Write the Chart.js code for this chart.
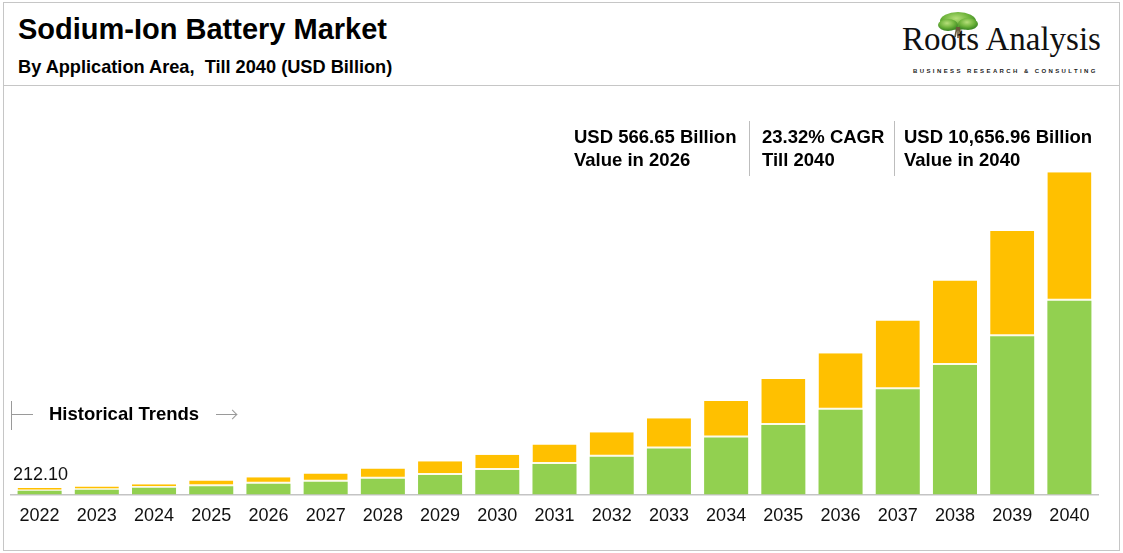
<!DOCTYPE html>
<html lang="en">
<head>
    <meta charset="UTF-8">
    <title>Sodium-Ion Battery Market</title>

    <!-- Chart.js -->
    <script src="https://cdn.jsdelivr.net/npm/chart.js"></script>

    <style>
        html, body {
            margin: 0;
            padding: 0;
            width: 1123px;
            height: 553px;
            overflow: hidden;
            background: #fff;
            font-family: 'Liberation Sans', Arial, sans-serif;
            color: #000;
        }

        #frame {
            position: absolute;
            left: 3px;
            top: 2px;
            width: 1115px;
            height: 547px;
            border: 1.5px solid #c6c6c6;
        }

        #header-line {
            position: absolute;
            left: 3px;
            top: 85px;
            width: 1117px;
            height: 0;
            border-top: 1.5px solid #c6c6c6;
        }

        .abs { position: absolute; white-space: pre; }

        #title { left: 18px; top: 15px; font-size: 29px; line-height: 29px; font-weight: bold; }
        #subtitle { left: 18px; top: 58px; font-size: 18.2px; line-height: 18px; font-weight: bold; }

        #logo-text { left: 902px; top: 22.5px; font-family: 'Liberation Serif', 'DejaVu Serif', serif; font-size: 33px; line-height: 33px; color: #111; }
        #logo-sub { left: 913px; top: 68px; font-size: 6px; line-height: 6px; font-weight: bold; letter-spacing: 2.4px; color: #222; }
        #logo-tree { left: 928px; top: 7px; }

        .note { font-size: 18.5px; line-height: 22.5px; font-weight: bold; top: 126.4px; }
        .sep { position: absolute; top: 121px; height: 55px; width: 0; border-left: 1.2px solid #bdbdbd; }

        #chart-box {
            position: absolute;
            left: 3px;
            top: 87px;
            width: 1115px;
            height: 462px;
        }

        #hist-v { position: absolute; left: 11px; top: 401px; height: 29px; width: 0; border-left: 1px solid #9a9a9a; }
        #hist-h { position: absolute; left: 11px; top: 414px; width: 22px; height: 0; border-top: 1px solid #9a9a9a; }
        #hist-text { left: 49px; top: 405px; font-size: 18.5px; line-height: 18.5px; font-weight: bold; }
        #hist-arrow { position: absolute; left: 216px; top: 414px; width: 20px; height: 0; border-top: 1px solid #9a9a9a; }
        #hist-arrow:after {
            content: '';
            position: absolute;
            right: 0;
            top: -4px;
            width: 6px;
            height: 6px;
            border-top: 1px solid #9a9a9a;
            border-right: 1px solid #9a9a9a;
            transform: rotate(45deg);
        }
    </style>
</head>
<body>
<div id="frame"></div>
<div id="header-line"></div>

<div id="title" class="abs">Sodium-Ion Battery Market</div>
<div id="subtitle" class="abs">By Application Area,  Till 2040 (USD Billion)</div>

<!-- logo -->
<svg id="logo-tree" class="abs" width="60" height="40" viewBox="0 0 60 40">
    <defs>
        <radialGradient id="leaf" cx="45%" cy="35%" r="60%">
            <stop offset="0%" stop-color="#b6df7a"/>
            <stop offset="60%" stop-color="#6fb43c"/>
            <stop offset="100%" stop-color="#3f8a25"/>
        </radialGradient>
    </defs>
    <ellipse cx="30" cy="14" rx="18" ry="9" fill="url(#leaf)"/>
    <ellipse cx="20" cy="18" rx="10" ry="6" fill="url(#leaf)"/>
    <ellipse cx="40" cy="17" rx="10" ry="6" fill="url(#leaf)"/>
    <path d="M29 20 L27 30 M31 20 L33 30 M30 20 L30 31" stroke="#6b5a3a" stroke-width="1.6" fill="none"/>
</svg>
<div id="logo-text" class="abs">Roots Analysis</div>
<div id="logo-sub" class="abs">BUSINESS RESEARCH &amp; CONSULTING</div>

<div id="chart-box"><canvas id="marketChart"></canvas></div>

<!-- call-outs -->
<div class="abs note" style="left: 574px;">USD 566.65 Billion
Value in 2026</div>
<div class="sep" style="left: 749px;"></div>
<div class="abs note" style="left: 762px;">23.32% CAGR
Till 2040</div>
<div class="sep" style="left: 894px;"></div>
<div class="abs note" style="left: 904px;">USD 10,656.96 Billion
Value in 2040</div>

<div id="hist-v"></div>
<div id="hist-h"></div>
<div id="hist-text" class="abs">Historical Trends</div>
<div id="hist-arrow"></div>

<script>
    // years on the x axis
    var years = ["2022", "2023", "2024", "2025", "2026", "2027", "2028", "2029", "2030", "2031",
        "2032", "2033", "2034", "2035", "2036", "2037", "2038", "2039", "2040"];

    // lower (green) segment, USD billion
    var greenPart = [125, 155, 222, 276, 355, 421, 521, 641, 807, 1006,
        1252, 1517, 1882, 2301, 2799, 3483, 4279, 5228, 6402];

    // upper (yellow) segment, USD billion
    var yellowPart = [87.1, 110, 120, 189, 211.65, 276, 342, 455, 511, 644,
        806, 1006, 1206, 1517, 1872, 2265, 2796, 3483, 4255];

    // only the first bar carries a value label
    var firstLabel = "212.10";

    // label above the 2022 bar
    var firstBarLabel = {
        id: "firstBarLabel",
        afterDatasetsDraw: function (chart) {
            var ctx = chart.ctx;
            var x = chart.scales.x.getPixelForValue(0);
            var y = chart.scales.y.getPixelForValue(greenPart[0] + yellowPart[0]);
            ctx.save();
            ctx.font = "18px 'Liberation Sans', Arial, sans-serif";
            ctx.fillStyle = "#111";
            ctx.textAlign = "center";
            ctx.textBaseline = "middle";
            ctx.fillText(firstLabel, x + 1, y - 13);
            ctx.restore();
        }
    };

    document.addEventListener("DOMContentLoaded", function () {
        var ctx = document.getElementById("marketChart").getContext("2d");
        new Chart(ctx, {
            type: "bar",
            data: {
                labels: years,
                datasets: [
                    {
                        label: "Green",
                        data: greenPart,
                        backgroundColor: "#92D050",
                        borderWidth: 0,
                        categoryPercentage: 0.77,
                        barPercentage: 1
                    },
                    {
                        label: "Yellow",
                        data: yellowPart,
                        backgroundColor: "#FFC000",
                        borderColor: "#fdfbe8",
                        borderWidth: { top: 0, left: 0, right: 0, bottom: 2 },
                        borderSkipped: false,
                        categoryPercentage: 0.77,
                        barPercentage: 1
                    }
                ]
            },
            plugins: [firstBarLabel],
            options: {
                responsive: true,
                maintainAspectRatio: false,
                animation: false,
                layout: {
                    padding: { left: 8, right: 20, top: 44.5, bottom: 10.9 }
                },
                plugins: {
                    legend: { display: false },
                    tooltip: { enabled: false }
                },
                scales: {
                    x: {
                        stacked: true,
                        grid: { display: false, drawTicks: false },
                        border: { display: true, color: "#c4c4c4", width: 1.5 },
                        ticks: {
                            color: "#111",
                            padding: 11,
                            font: { family: "'Liberation Sans', Arial, sans-serif", size: 18 }
                        }
                    },
                    y: {
                        stacked: true,
                        display: false,
                        min: 0,
                        max: 12000
                    }
                }
            }
        });
    });
</script>
</body>
</html>
